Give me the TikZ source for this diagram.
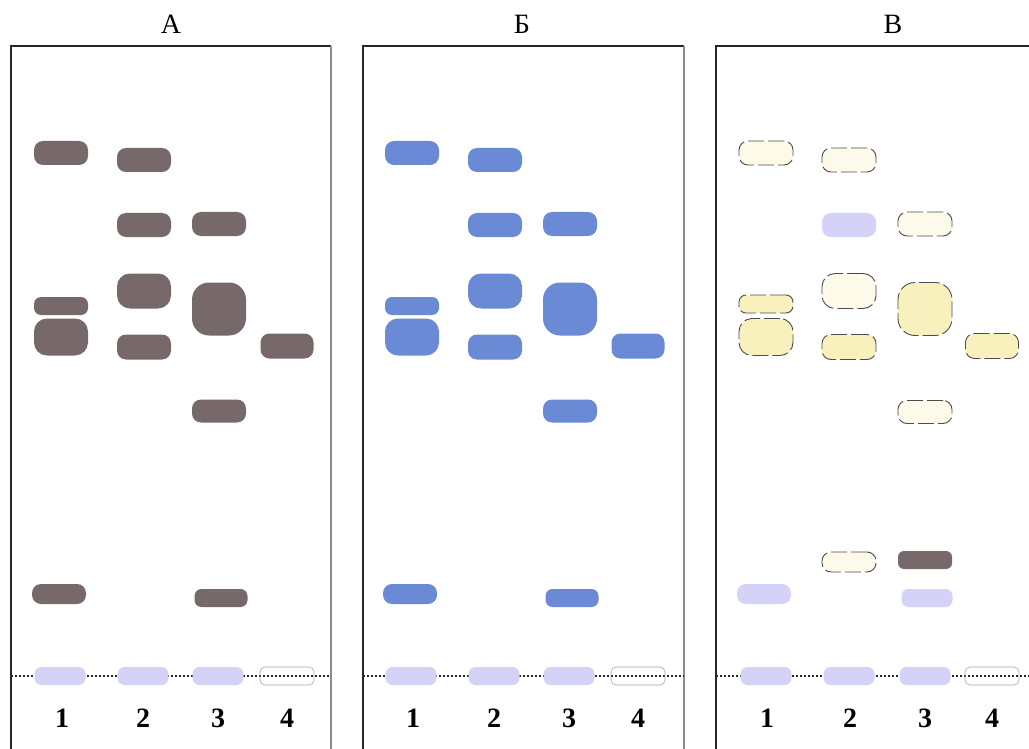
\documentclass[tikz,border=0pt]{standalone}
\usepackage{fontspec}
\setmainfont{Liberation Serif}
\definecolor{brn}{HTML}{77696A}
\definecolor{blu}{HTML}{6B8AD6}
\definecolor{lav}{HTML}{D4D2F7}
\definecolor{crm}{HTML}{FEFAEA}
\definecolor{ylw}{HTML}{F9F1BD}
\tikzset{
  spotbase/.style={rectangle, rounded corners=9pt, inner sep=0pt, minimum width=54pt, minimum height=24pt},
  sbrn/.style={spotbase, fill=brn},
  sblu/.style={spotbase, fill=blu},
  slav/.style={spotbase, fill=lav},
  scrm/.style={spotbase, fill=crm, draw=black!70, line width=0.9pt, dash pattern=on 16pt off 4pt},
  sylw/.style={spotbase, fill=ylw, draw=black!70, line width=0.9pt, dash pattern=on 16pt off 4pt},
  sempty/.style={spotbase, draw=black!35, line width=0.6pt, minimum height=18pt, rounded corners=5pt},
  frameline/.style={line width=1.6pt, draw=black!85},
  frameright/.style={line width=1.6pt, draw=black!45},
  startline/.style={line width=1.2pt, black!85, dash pattern=on 2pt off 2pt},
  ttl/.style={font=\fontsize{28}{30}\selectfont, inner sep=0pt},
  num/.style={font=\fontsize{28}{30}\selectfont\bfseries, inner sep=0pt}
}
\begin{document}
\begin{tikzpicture}[x=1pt,y=-1pt]
\useasboundingbox (0,0) rectangle (1029,749);
\fill[white] (0,0) rectangle (1029,749);
\clip (0,0) rectangle (1029,749);
% titles
\node[ttl] (tA) at (171,24) {А};
\node[ttl] (tB) at (522,24) {Б};
\node[ttl] (tC) at (893,24) {В};
% frames
\draw[frameline] (11,752) -- (11,46) -- (331,46);
\draw[frameright] (331,46) -- (331,752);
\draw[frameline] (363,752) -- (363,46) -- (684,46);
\draw[frameright] (684,46) -- (684,752);
\draw[frameline] (716,752) -- (716,46) -- (1040,46);
% start lines
\draw[startline] (11,676) -- (331,676);
\draw[startline] (363,676) -- (684,676);
\draw[startline] (716,676) -- (1029,676);
% ---------- Panel A ----------
\node[sbrn] (a11) at (61,153) {};
\node[sbrn, minimum height=18pt, rounded corners=7pt] (a12) at (61,306) {};
\node[sbrn, minimum height=37pt, rounded corners=13pt] (a13) at (61,337) {};
\node[sbrn, minimum height=20pt] (a14) at (59,594) {};
\node[sbrn] (a21) at (144,160) {};
\node[sbrn] (a22) at (144,225) {};
\node[sbrn, minimum height=35pt, rounded corners=13pt] (a23) at (144,291) {};
\node[sbrn, minimum height=25pt] (a24) at (144,347) {};
\node[sbrn] (a31) at (219,224) {};
\node[sbrn, minimum height=53pt, rounded corners=17pt] (a32) at (219,309) {};
\node[sbrn, minimum height=23pt] (a33) at (219,411) {};
\node[sbrn, minimum width=53pt, minimum height=18pt, rounded corners=7pt] (a34) at (221,598) {};
\node[sbrn, minimum width=53pt, minimum height=25pt] (a41) at (287,346) {};
\node[slav, minimum width=51pt, minimum height=18pt, rounded corners=7pt] (a10) at (60,676) {};
\node[slav, minimum width=51pt, minimum height=18pt, rounded corners=7pt] (a20) at (143,676) {};
\node[slav, minimum width=51pt, minimum height=18pt, rounded corners=7pt] (a30) at (218,676) {};
\node[sempty] (a40) at (287,676) {};
\node[num] (na1) at (62,718) {1};
\node[num] (na2) at (143,718) {2};
\node[num] (na3) at (218,718) {3};
\node[num] (na4) at (287,718) {4};
% ---------- Panel B ----------
\begin{scope}[xshift=351pt]
\node[sblu] (b11) at (61,153) {};
\node[sblu, minimum height=18pt, rounded corners=7pt] (b12) at (61,306) {};
\node[sblu, minimum height=37pt, rounded corners=13pt] (b13) at (61,337) {};
\node[sblu, minimum height=20pt] (b14) at (59,594) {};
\node[sblu] (b21) at (144,160) {};
\node[sblu] (b22) at (144,225) {};
\node[sblu, minimum height=35pt, rounded corners=13pt] (b23) at (144,291) {};
\node[sblu, minimum height=25pt] (b24) at (144,347) {};
\node[sblu] (b31) at (219,224) {};
\node[sblu, minimum height=53pt, rounded corners=17pt] (b32) at (219,309) {};
\node[sblu, minimum height=23pt] (b33) at (219,411) {};
\node[sblu, minimum width=53pt, minimum height=18pt, rounded corners=7pt] (b34) at (221,598) {};
\node[sblu, minimum width=53pt, minimum height=25pt] (b41) at (287,346) {};
\node[slav, minimum width=51pt, minimum height=18pt, rounded corners=7pt] (b10) at (60,676) {};
\node[slav, minimum width=51pt, minimum height=18pt, rounded corners=7pt] (b20) at (143,676) {};
\node[slav, minimum width=51pt, minimum height=18pt, rounded corners=7pt] (b30) at (218,676) {};
\node[sempty] (b40) at (287,676) {};
\node[num] (nb1) at (62,718) {1};
\node[num] (nb2) at (143,718) {2};
\node[num] (nb3) at (218,718) {3};
\node[num] (nb4) at (287,718) {4};
\end{scope}
% ---------- Panel V ----------
\begin{scope}[xshift=705pt]
\node[scrm] (c11) at (61,153) {};
\node[sylw, minimum height=18pt, rounded corners=7pt] (c12) at (61,304) {};
\node[sylw, minimum height=37pt, rounded corners=13pt] (c13) at (61,337) {};
\node[slav, minimum height=20pt] (c14) at (59,594) {};
\node[scrm] (c21) at (144,160) {};
\node[slav] (c22) at (144,225) {};
\node[scrm, minimum height=35pt, rounded corners=13pt] (c23) at (144,291) {};
\node[sylw, minimum height=25pt] (c24) at (144,347) {};
\node[scrm, minimum height=20pt] (c25) at (144,562) {};
\node[scrm] (c31) at (220,224) {};
\node[sylw, minimum height=53pt, rounded corners=17pt] (c32) at (220,309) {};
\node[scrm, minimum height=23pt] (c33) at (220,412) {};
\node[sbrn, minimum height=18pt, rounded corners=6pt] (c34) at (220,560) {};
\node[slav, minimum width=51pt, minimum height=18pt, rounded corners=7pt] (c35) at (222,598) {};
\node[sylw, minimum width=53pt, minimum height=25pt] (c41) at (287,346) {};
\node[slav, minimum width=51pt, minimum height=18pt, rounded corners=7pt] (c10) at (61,676) {};
\node[slav, minimum width=51pt, minimum height=18pt, rounded corners=7pt] (c20) at (144,676) {};
\node[slav, minimum width=51pt, minimum height=18pt, rounded corners=7pt] (c30) at (220,676) {};
\node[sempty] (c40) at (287,676) {};
\node[num] (nc1) at (62,718) {1};
\node[num] (nc2) at (145,718) {2};
\node[num] (nc3) at (220,718) {3};
\node[num] (nc4) at (287,718) {4};
\end{scope}
\end{tikzpicture}
\end{document}
